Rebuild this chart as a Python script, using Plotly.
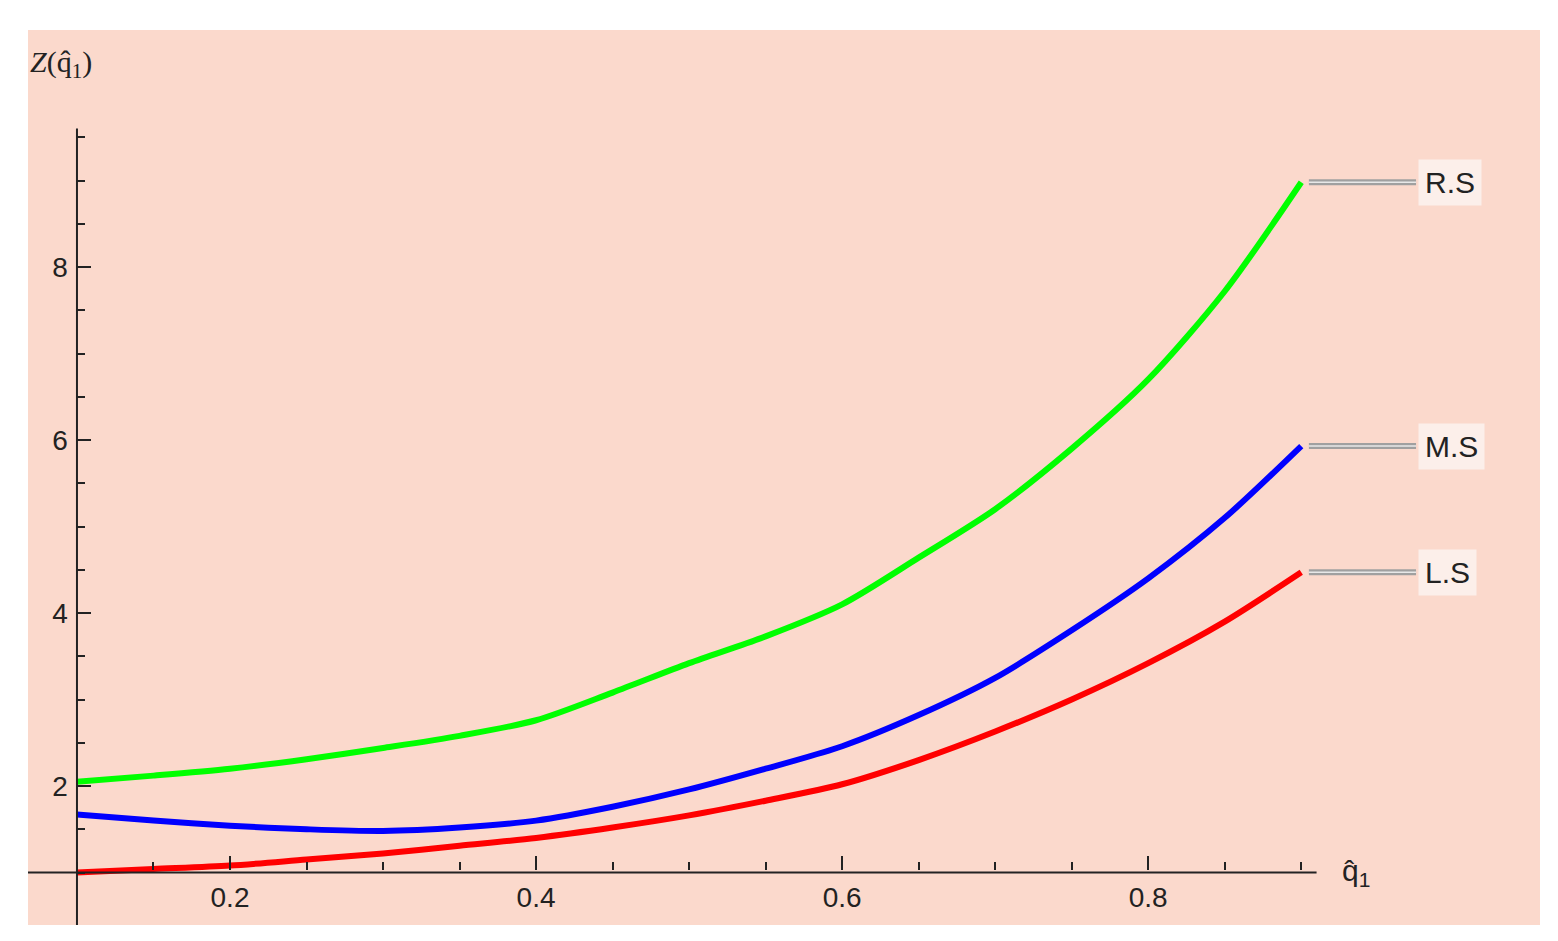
import plotly.graph_objects as go

x = [0.1, 0.15, 0.2, 0.25, 0.3, 0.35, 0.4, 0.45, 0.5, 0.55, 0.6, 0.65, 0.7, 0.75, 0.8, 0.85, 0.9]
rs = [2.05, 2.12, 2.2, 2.31, 2.44, 2.58, 2.76, 3.08, 3.42, 3.73, 4.1, 4.64, 5.2, 5.9, 6.7, 7.72, 8.98]
ms = [1.67, 1.6, 1.54, 1.5, 1.48, 1.52, 1.6, 1.76, 1.96, 2.2, 2.46, 2.82, 3.25, 3.8, 4.4, 5.1, 5.93]
ls = [1.0, 1.04, 1.08, 1.15, 1.22, 1.31, 1.4, 1.52, 1.66, 1.83, 2.02, 2.3, 2.63, 3.0, 3.42, 3.9, 4.47]
names = ["R.S", "M.S", "L.S"]
colors = ["#00FF00", "#0000FF", "#FF0000"]
xminor = [round(0.1 + 0.05 * i, 2) for i in range(17)]
yminor = [1 + 0.5 * i for i in range(18)]

fig = go.Figure()
for ys, c in zip([rs, ms, ls], colors):
    fig.add_trace(go.Scatter(x=x, y=ys, mode="lines", line=dict(color=c, width=6, shape="spline", smoothing=0.8),
                             showlegend=False, hoverinfo="skip"))

for ys, n in zip([rs, ms, ls], names):
    yv = ys[-1]
    fig.add_shape(type="line", x0=0.905, x1=0.975, y0=yv, y1=yv, line=dict(color="#A0A0A0", width=6))
    fig.add_shape(type="line", x0=0.905, x1=0.975, y0=yv, y1=yv, line=dict(color="#E8E8E8", width=1.5))
    fig.add_annotation(x=0.976, y=yv, text=n, showarrow=False, xanchor="left", bgcolor="#FCEFEA",
                       font=dict(size=30, color="#222", family="Liberation Sans"), borderpad=6)

fig.add_annotation(x=0.068, y=10.35, xanchor="left", yanchor="middle",
                   text="<i>Z</i>(q̂<sub>1</sub>)", showarrow=False, font=dict(size=30, family="Liberation Serif", color="#222"))
fig.add_annotation(x=0.925, y=1.0, text="q̂<sub>1</sub>", showarrow=False, xanchor="left", yanchor="middle",
                   font=dict(size=30, family="Liberation Sans", color="#222"))

fig.update_layout(
    width=1558, height=941, margin=dict(l=20, r=26, t=22, b=24, pad=0),
    paper_bgcolor="white", plot_bgcolor="#FBD9CC",
    font=dict(family="Liberation Sans", size=28, color="#222"),
    xaxis=dict(range=[0.068, 1.056], anchor="free", position=0.0615, showgrid=False, zeroline=False,
               showline=False, tickvals=[0.2, 0.4, 0.6, 0.8], ticks="inside", ticklen=14, tickwidth=1.5,
               tickcolor="#222", minor=dict(tickvals=xminor, ticks="inside", ticklen=8, tickcolor="#222"),
               ticklabelstandoff=8),
    yaxis=dict(range=[0.393, 10.74], anchor="free", position=0.0317, showgrid=False, zeroline=False,
               showline=False, tickvals=[2, 4, 6, 8], ticks="inside", ticklen=14, tickwidth=1.5,
               tickcolor="#222", minor=dict(tickvals=yminor, ticks="inside", ticklen=8, tickcolor="#222"),
               ticklabelstandoff=8),
)
fig.add_shape(type="line", x0=0.1, x1=0.1, y0=0.393, y1=9.6, line=dict(color="#222", width=2))
fig.add_shape(type="line", x0=0.068, x1=0.91, y0=1, y1=1, line=dict(color="#222", width=2))
fig.write_html("out.html")
